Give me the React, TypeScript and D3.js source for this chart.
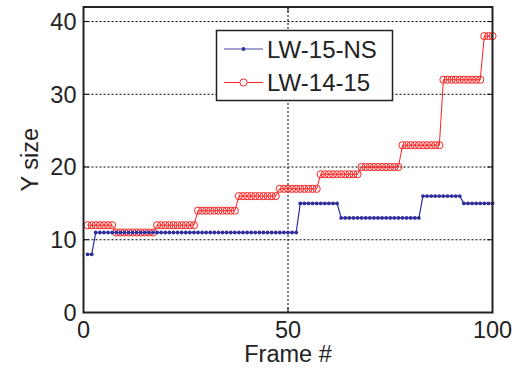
import React from "react";
import * as d3 from "d3";

const seriesNames = ["LW-15-NS", "LW-14-15"];
const xTicks = [0, 50, 100];
const yTicks = [0, 10, 20, 30, 40];

// frames 1..100
const lw15ns = [
  8, 8, 11, 11, 11, 11, 11, 11, 11, 11,
  11, 11, 11, 11, 11, 11, 11, 11, 11, 11,
  11, 11, 11, 11, 11, 11, 11, 11, 11, 11,
  11, 11, 11, 11, 11, 11, 11, 11, 11, 11,
  11, 11, 11, 11, 11, 11, 11, 11, 11, 11,
  11, 11, 15, 15, 15, 15, 15, 15, 15, 15,
  15, 15, 13, 13, 13, 13, 13, 13, 13, 13,
  13, 13, 13, 13, 13, 13, 13, 13, 13, 13,
  13, 13, 16, 16, 16, 16, 16, 16, 16, 16,
  16, 16, 15, 15, 15, 15, 15, 15, 15, 15,
];

const lw1415 = [
  12, 12, 12, 12, 12, 12, 12, 11, 11, 11,
  11, 11, 11, 11, 11, 11, 11, 12, 12, 12,
  12, 12, 12, 12, 12, 12, 12, 14, 14, 14,
  14, 14, 14, 14, 14, 14, 14, 16, 16, 16,
  16, 16, 16, 16, 16, 16, 16, 17, 17, 17,
  17, 17, 17, 17, 17, 17, 17, 19, 19, 19,
  19, 19, 19, 19, 19, 19, 19, 20, 20, 20,
  20, 20, 20, 20, 20, 20, 20, 23, 23, 23,
  23, 23, 23, 23, 23, 23, 23, 32, 32, 32,
  32, 32, 32, 32, 32, 32, 32, 38, 38, 38,
];

const W = 518;
const H = 373;
const L = 83.5, R = 492.5, T = 7, B = 312.5;
const FONT = "'Liberation Sans', Arial, Helvetica, sans-serif";
const BLUE = "#2e2e9c";
const RED = "#ff2020";

export default function App() {
  const x = d3.scaleLinear().domain([0, 100]).range([L, R]);
  const y = d3.scaleLinear().domain([0, 42]).range([B, T]);
  const line = d3
    .line<number>()
    .x((_, i) => x(i + 1))
    .y((d) => y(d));

  return (
    <svg
      width={W}
      height={H}
      style={{ position: "absolute", left: 0, top: 0, background: "#fff" }}
    >
      <rect x={0} y={0} width={W} height={H} fill="#fff" />
      {/* grid */}
      {yTicks
        .filter((t) => t > 0)
        .map((t) => (
          <line
            key={"gy" + t}
            x1={L}
            x2={R}
            y1={y(t)}
            y2={y(t)}
            stroke="#000"
            strokeWidth={1}
            strokeDasharray="2,2"
          />
        ))}
      {xTicks
        .filter((t) => t > 0 && t < 100)
        .map((t) => (
          <line
            key={"gx" + t}
            x1={x(t)}
            x2={x(t)}
            y1={T}
            y2={B}
            stroke="#000"
            strokeWidth={1}
            strokeDasharray="2,2"
          />
        ))}
      {/* red series */}
      <path d={line(lw1415) || ""} fill="none" stroke={RED} strokeWidth={1} />
      {lw1415.map((v, i) => (
        <circle
          key={"r" + i}
          cx={x(i + 1)}
          cy={y(v)}
          r={3.6}
          fill="none"
          stroke={RED}
          strokeWidth={1}
        />
      ))}
      {/* blue series */}
      <path d={line(lw15ns) || ""} fill="none" stroke={BLUE} strokeWidth={1.2} />
      {lw15ns.map((v, i) => (
        <circle key={"b" + i} cx={x(i + 1)} cy={y(v)} r={1.9} fill={BLUE} />
      ))}
      {/* ticks */}
      {yTicks.map((t) => (
        <g key={"ty" + t}>
          <line x1={L} x2={L + 5} y1={y(t)} y2={y(t)} stroke="#000" strokeWidth={1} />
          <line x1={R} x2={R - 5} y1={y(t)} y2={y(t)} stroke="#000" strokeWidth={1} />
          <text
            x={L - 7}
            y={y(t)}
            dy="0.36em"
            textAnchor="end"
            fontFamily={FONT}
            fontSize={23.5}
            fill="#222"
          >
            {t}
          </text>
        </g>
      ))}
      {xTicks.map((t) => (
        <g key={"tx" + t}>
          <line x1={x(t)} x2={x(t)} y1={B} y2={B - 5} stroke="#000" strokeWidth={1} />
          <line x1={x(t)} x2={x(t)} y1={T} y2={T + 5} stroke="#000" strokeWidth={1} />
          <text
            x={x(t)}
            y={338}
            textAnchor="middle"
            fontFamily={FONT}
            fontSize={23.5}
            fill="#222"
          >
            {t}
          </text>
        </g>
      ))}
      {/* frame */}
      <rect x={L} y={T} width={R - L} height={B - T} fill="none" stroke="#222" strokeWidth={2} />
      {/* axis labels */}
      <text
        x={(L + R) / 2}
        y={362}
        textAnchor="middle"
        fontFamily={FONT}
        fontSize={23.5}
        fill="#222"
      >
        Frame #
      </text>
      <text
        transform={`translate(38, ${(T + B) / 2}) rotate(-90)`}
        textAnchor="middle"
        fontFamily={FONT}
        fontSize={23.5}
        fill="#222"
      >
        Y size
      </text>
      {/* legend */}
      <rect x={216.5} y={30.5} width={176} height={70} fill="#fff" stroke="#222" strokeWidth={1.5} />
      <line x1={224} x2={263} y1={49} y2={49} stroke={BLUE} strokeOpacity={0.6} strokeWidth={1.5} />
      <circle cx={243.5} cy={49} r={1.9} fill={BLUE} />
      <text x={267} y={49} dy="0.36em" fontFamily={FONT} fontSize={24} fill="#222">
        {seriesNames[0]}
      </text>
      <line x1={224} x2={263} y1={82.5} y2={82.5} stroke={RED} strokeWidth={1} />
      <circle cx={243.5} cy={82.5} r={3.6} fill="#fff" stroke={RED} strokeWidth={1} />
      <text x={267} y={82.5} dy="0.36em" fontFamily={FONT} fontSize={24} fill="#222">
        {seriesNames[1]}
      </text>
    </svg>
  );
}
